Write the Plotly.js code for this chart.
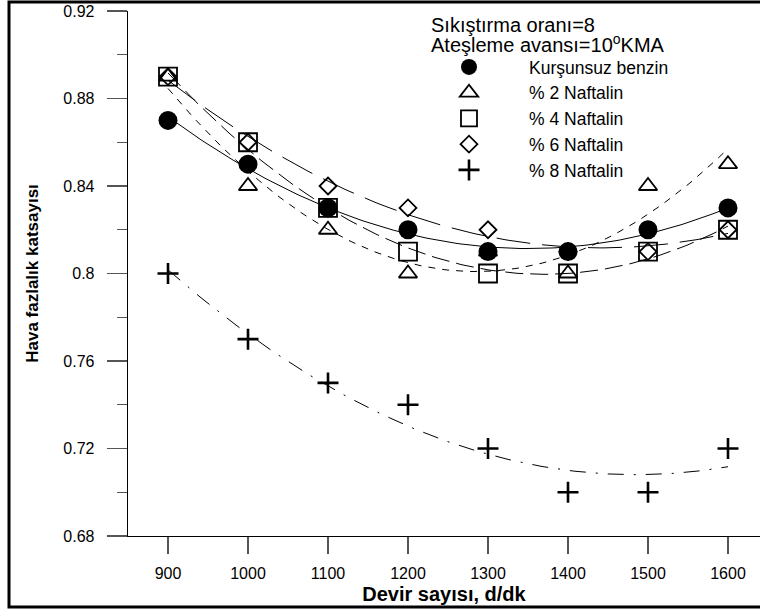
<!DOCTYPE html>
<html>
<head>
<meta charset="utf-8">
<script src="https://cdn.plot.ly/plotly-3.0.1.min.js"></script>
<style>
html,body{margin:0;padding:0;background:#fff;}
#chart{width:760px;height:612px;}
</style>
</head>
<body>
<div id="chart"></div>
<script>
// ---- data ----
const rpm = [900, 1000, 1100, 1200, 1300, 1400, 1500, 1600];
const benzin = [0.87, 0.85, 0.83, 0.82, 0.81, 0.81, 0.82, 0.83];
const naf2 = [0.89, 0.84, 0.82, 0.80, 0.81, 0.80, 0.84, 0.85];
const naf4 = [0.89, 0.86, 0.83, 0.81, 0.80, 0.80, 0.81, 0.82];
const naf6 = [0.89, 0.86, 0.84, 0.83, 0.82, 0.81, 0.81, 0.82];
const naf8 = [0.80, 0.77, 0.75, 0.74, 0.72, 0.70, 0.70, 0.72];
const seriesNames = ["Kurşunsuz benzin", "% 2 Naftalin", "% 4 Naftalin", "% 6 Naftalin", "% 8 Naftalin"];
const yTickVals = [0.68, 0.72, 0.76, 0.8, 0.84, 0.88, 0.92];
const xTickVals = [900, 1000, 1100, 1200, 1300, 1400, 1500, 1600];

// quadratic least-squares trend line (2nd order polynomial fit of each series)
function quadFit(xs, ys) {
  const xm = xs.reduce((a, b) => a + b, 0) / xs.length;
  const u = xs.map(x => (x - xm) / 100);
  let S = [0, 0, 0, 0, 0], T = [0, 0, 0];
  for (let i = 0; i < u.length; i++) {
    for (let k = 0; k < 5; k++) S[k] += Math.pow(u[i], k);
    for (let k = 0; k < 3; k++) T[k] += ys[i] * Math.pow(u[i], k);
  }
  const A = [[S[0], S[1], S[2], T[0]], [S[1], S[2], S[3], T[1]], [S[2], S[3], S[4], T[2]]];
  for (let c = 0; c < 3; c++) {
    for (let r = c + 1; r < 3; r++) {
      const f = A[r][c] / A[c][c];
      for (let k = c; k < 4; k++) A[r][k] -= f * A[c][k];
    }
  }
  const coef = [0, 0, 0];
  for (let r = 2; r >= 0; r--) {
    let s = A[r][3];
    for (let k = r + 1; k < 3; k++) s -= A[r][k] * coef[k];
    coef[r] = s / A[r][r];
  }
  const fx = [], fy = [];
  const x0 = xs[0], x1 = xs[xs.length - 1];
  for (let i = 0; i <= 140; i++) {
    const x = x0 + (x1 - x0) * i / 140;
    const t = (x - xm) / 100;
    fx.push(x); fy.push(coef[0] + coef[1] * t + coef[2] * t * t);
  }
  return {x: fx, y: fy};
}

const specs = [
  {y: naf2, name: seriesNames[1], rank: 2, symbol: "triangle-up-open", size: 16, lw: 1.8, dash: "7px,7px"},
  {y: naf4, name: seriesNames[2], rank: 3, symbol: "square-open", size: 18, lw: 1.8, dash: "18px,7px"},
  {y: naf6, name: seriesNames[3], rank: 4, symbol: "diamond-open", size: 13, lw: 1.8, dash: "34px,12px"},
  {y: naf8, name: seriesNames[4], rank: 5, symbol: "cross-thin-open", size: 15, lw: 2.6, dash: "16px,10px,2px,10px"},
  {y: benzin, name: seriesNames[0], rank: 1, symbol: "circle", size: 19, lw: 0, dash: "solid"}
];

const traces = [];
specs.forEach(s => {
  const f = quadFit(rpm, s.y);
  traces.push({
    x: f.x, y: f.y, type: "scatter", mode: "lines", showlegend: false, hoverinfo: "skip",
    line: {color: "#000", width: 1, dash: s.dash}
  });
});
specs.forEach(s => {
  traces.push({
    x: rpm, y: s.y, type: "scatter", mode: "markers", name: s.name, legendrank: s.rank,
    marker: {symbol: s.symbol, size: s.size, color: "#000", line: {color: "#000", width: s.lw}}
  });
});

const W = 632, H = 525, L = 128, T = 11;
const px = v => (v - L) / W;
const py = v => (T + H - v) / H;

const layout = {
  width: 760, height: 612,
  margin: {l: 128, r: 0, t: 11, b: 76},
  paper_bgcolor: "#fff", plot_bgcolor: "#fff",
  font: {family: "Liberation Sans, Arial, sans-serif", color: "#000"},
  showlegend: true,
  legend: {
    x: px(409), y: py(49), xanchor: "left", yanchor: "top",
    bgcolor: "rgba(0,0,0,0)", borderwidth: 0,
    font: {size: 17.5, family: "Liberation Sans, Arial, sans-serif", color: "#000"},
    itemwidth: 110, itemclick: false, itemdoubleclick: false
  },
  xaxis: {
    range: [850, 1640], tickvals: xTickVals, ticktext: xTickVals.map(String),
    ticks: "outside", ticklen: 17, tickwidth: 1.2, tickcolor: "#555",
    showline: true, linecolor: "#000", linewidth: 1.3, mirror: false,
    showgrid: false, zeroline: false, ticklabelstandoff: 5,
    tickfont: {size: 16, color: "#000"},
    title: {text: "<b>Devir sayısı, d/dk</b>", font: {size: 20, color: "#000"}, standoff: 6}
  },
  yaxis: {
    range: [0.68, 0.92], tickvals: yTickVals, ticktext: yTickVals.map(String),
    ticks: "outside", ticklen: 20, tickwidth: 1.2, tickcolor: "#555",
    minor: {tickvals: [0.70, 0.74, 0.78, 0.82, 0.86, 0.90], ticks: "outside", ticklen: 10, tickwidth: 1.2, tickcolor: "#555", showgrid: false},
    showline: true, linecolor: "#000", linewidth: 1.3, mirror: false,
    showgrid: false, zeroline: false, ticklabelstandoff: 9,
    tickfont: {size: 16, color: "#000"},
    title: {text: "<b>Hava fazlalık katsayısı</b>", font: {size: 17, color: "#000"}, standoff: 20}
  },
  annotations: [
    {xref: "paper", yref: "paper", x: px(429), y: py(25), xanchor: "left", yanchor: "middle", showarrow: false,
     text: "Sıkıştırma oranı=8", font: {size: 20, color: "#000"}},
    {xref: "paper", yref: "paper", x: px(429), y: py(44), xanchor: "left", yanchor: "middle", showarrow: false,
     text: "Ateşleme avansı=10<sup>o</sup>KMA", font: {size: 20, color: "#000"}}
  ],
  shapes: [
    {type: "rect", xref: "paper", yref: "paper", x0: px(9), x1: px(770), y0: py(607), y1: py(2),
     line: {color: "#000", width: 3}, fillcolor: "rgba(0,0,0,0)", layer: "above"}
  ]
};

Plotly.newPlot("chart", traces, layout, {displayModeBar: false, staticPlot: true});
</script>
</body>
</html>
